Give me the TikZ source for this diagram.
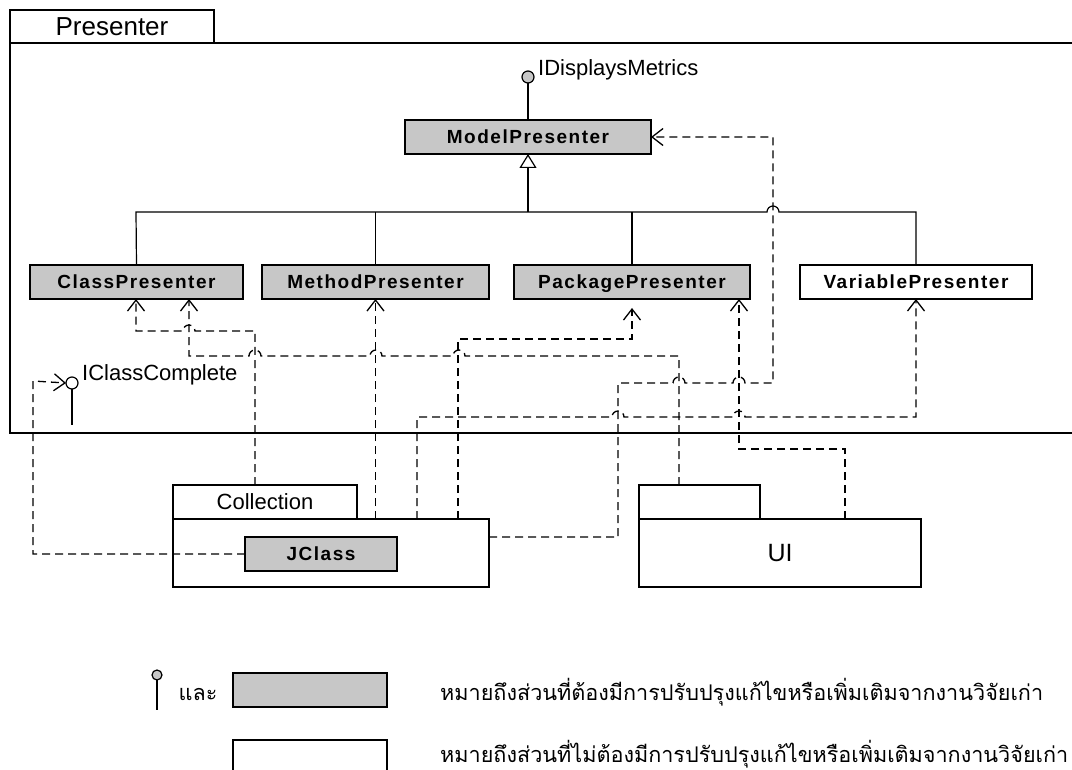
\documentclass[tikz,border=0pt]{standalone}
\usepackage{fontspec}
\setmainfont{Liberation Sans}
\newfontfamily\clsfont[LetterSpace=8]{Liberation Sans}
\newfontfamily\thaifont[Script=Thai]{Loma}
\usetikzlibrary{arrows.meta}
\definecolor{clsgray}{gray}{0.78}
\tikzset{
  cls/.style={draw, line width=1.4pt, fill=clsgray, minimum height=34pt, inner sep=0pt, outer sep=0pt,
    text height=13.5pt, text depth=0pt,
    font=\clsfont\bfseries\fontsize{19}{22}\selectfont},
  clsw/.style={cls, fill=white},
  pkgtab/.style={draw, line width=1.4pt, minimum height=34pt, inner sep=0pt, outer sep=0pt},
  pkgline/.style={line width=1.4pt},
  lbl/.style={inner sep=0pt, font=\fontsize{22}{26}\selectfont},
  dep/.style={line width=1.3pt, dash pattern=on 8pt off 5pt,
    -{Straight Barb[length=11pt,width=17pt,line width=1.3pt]}},
  gen/.style={line width=1.2pt},
  lolli/.style={circle, draw, line width=1.2pt, fill=clsgray, minimum size=12pt, inner sep=0pt, outer sep=0pt},
  thai/.style={inner sep=0pt, font=\thaifont\fontsize{21.6}{26}\selectfont},
}
\begin{document}
\begin{tikzpicture}[x=1pt, y=-1pt]
\useasboundingbox (0,0) rectangle (1072,770);

% Presenter package
\node[pkgtab, minimum width=204pt, minimum height=33pt, font=\fontsize{26}{30}\selectfont] (prtab) at (112,26.5) {Presenter};
\draw[pkgline] (1072,43) -- (10,43) -- (10,433) -- (1072,433);

% Collection package
\node[pkgtab, minimum width=184pt, font=\fontsize{22}{26}\selectfont] (colltab) at (265,502) {Collection};
\node[pkgtab, minimum width=316pt, minimum height=68pt] (colmain) at (331,553) {};
% UI package
\node[pkgtab, minimum width=121pt] (uitab) at (699.5,502) {};
\node[pkgtab, minimum width=282pt, minimum height=68pt, font=\fontsize{25}{30}\selectfont] (uimain) at (780,553) {UI};

% classes
\node[cls, minimum width=246pt] (mdl) at (528,137) {ModelPresenter};
\node[cls, minimum width=213pt] (cp) at (136.5,282) {ClassPresenter};
\node[cls, minimum width=227pt] (mp) at (375.5,282) {MethodPresenter};
\node[cls, minimum width=236pt] (pp) at (632,282) {PackagePresenter};
\node[clsw, minimum width=232pt] (vp) at (916,282) {VariablePresenter};
\node[cls, minimum width=152pt] (jc) at (321,554) {JClass};

% interfaces
\node[lolli] (idm) at (528,77) {};
\draw[gen] (idm.south) -- (mdl.north);
\node[lbl, anchor=west] (idml) at (538,70) {IDisplaysMetrics};
\node[lolli, fill=white] (icc) at (72,383) {};
\coordinate (iccend) at (72,425);
\draw[gen] (icc.south) -- (iccend);
\node[lbl, anchor=west] (iccl) at (82,375) {IClassComplete};

% generalization
\draw[gen] (cp.north) -- (136,212) -- (767,212) arc[start angle=180,end angle=0,radius=6pt] -- (916,212) -- (vp.north);
\draw[gen] (mp.north) -- (mp.north |- 0,212);
\draw[gen] (pp.north) -- (pp.north |- 0,212);
\draw[gen, -{Triangle[open,length=14pt,width=17pt,fill=white,line width=1.2pt]}] (mdl.south |- 0,212) -- (mdl.south);

% dependencies
% Collection -> ClassPresenter
\draw[dep] (colltab.north -| 255,0) -- (255,331) -- (195,331) arc[start angle=0,end angle=180,radius=6pt] -- (136,331) -- (cp.south -| 136,0);
% UI -> ClassPresenter
\draw[dep] (uitab.north -| 679,0) -- (679,356) -- (465,356) arc[start angle=0,end angle=180,radius=6pt]
  -- (382,356) arc[start angle=0,end angle=180,radius=6pt]
  -- (261,356) arc[start angle=0,end angle=180,radius=6pt] -- (189,356) -- (cp.south -| 189,0);
% Collection -> MethodPresenter
\draw[dep] (colmain.north -| mp.south) -- (mp.south);
% Collection -> VariablePresenter
\draw[dep] (colmain.north -| 417,0) -- (417,417) -- (612,417) arc[start angle=180,end angle=0,radius=6pt]
  -- (733,417) arc[start angle=180,end angle=0,radius=6pt] -- (916,417) -- (vp.south);
% Collection -> PackagePresenter
\draw[dep] (colmain.north -| 458,0) -- (458,339) -- (632,339) -- ([yshift=-9pt]pp.south);
% Collection -> ModelPresenter
\draw[dep] (colmain.east |- 0,537) -- (618,537) -- (618,383) -- (673,383) arc[start angle=180,end angle=0,radius=6pt]
  -- (733,383) arc[start angle=180,end angle=0,radius=6pt] -- (773,383) -- (773,137) -- (mdl.east);
% UI -> PackagePresenter
\draw[dep] (uimain.north -| 845,0) -- (845,449) -- (739,449) -- (pp.south -| 739,0);
% JClass -> IClassComplete
\draw[dep] (jc.west) -- (33,554) -- (33,381) -- (icc.west);

% legend
\node[lolli, minimum size=10pt] (lgc) at (157,675) {};
\coordinate (lgend) at (157,710);
\draw[gen] (lgc.south) -- (lgend);
\node[thai] (lgand) at (198,694) {และ};
\node[cls, minimum width=154pt, line width=1.2pt] (lgbox) at (310,690) {};
\draw[line width=1.2pt] (233,772) -- (233,740) -- (387,740) -- (387,772);
\node[thai, anchor=west] (lgt1) at (440,692) {หมายถึงส่วนที่ต้องมีการปรับปรุงแก้ไขหรือเพิ่มเติมจากงานวิจัยเก่า};
\node[thai, anchor=west] (lgt2) at (440,754) {หมายถึงส่วนที่ไม่ต้องมีการปรับปรุงแก้ไขหรือเพิ่มเติมจากงานวิจัยเก่า};
\end{tikzpicture}
\end{document}
